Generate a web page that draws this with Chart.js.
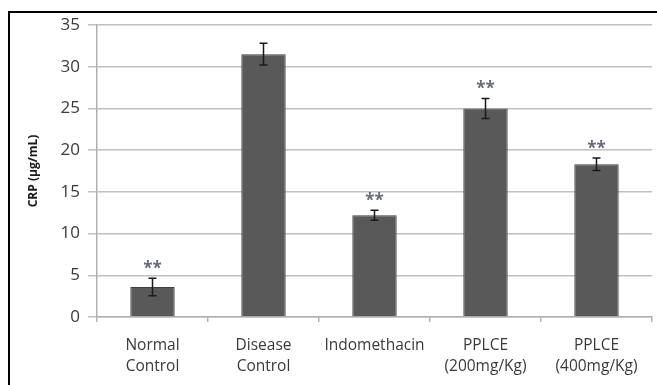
<!DOCTYPE html>
<html>
<head>
<meta charset="utf-8">
<script src="https://cdn.jsdelivr.net/npm/chart.js@4"></script>
<style>
    html, body { margin: 0; padding: 0; background: #fff; overflow: hidden; }
    #wrap { position: relative; width: 657px; height: 385px; }
    #frame {
        position: absolute; left: 8px; top: 11px;
        width: 700px; height: 420px;
        border: 2px solid #000; box-sizing: border-box;
    }
    canvas { position: absolute; left: 0; top: 0; }
</style>
</head>
<body>
<div id="wrap">
    <div id="frame"></div>
    <canvas id="crpChart" width="657" height="385"></canvas>
</div>
<script>
// 数据
const groups = [
    ['Normal', 'Control'],
    ['Disease', 'Control'],
    'Indomethacin',
    ['PPLCE', '(200mg/Kg)'],
    ['PPLCE', '(400mg/Kg)']
];
const crpMean = [3.6, 31.5, 12.2, 25.0, 18.3];
const crpError = [1.05, 1.3, 0.6, 1.2, 0.75];
const significance = ['**', '', '**', '**', '**'];
const yTicks = [0, 5, 10, 15, 20, 25, 30, 35];

// 误差线和显著性标记
const errorBarPlugin = {
    id: 'errorBars',
    afterDatasetsDraw(chart) {
        const ctx = chart.ctx;
        const meta = chart.getDatasetMeta(0);
        const y = chart.scales.y;
        ctx.save();
        meta.data.forEach((bar, i) => {
            const x = bar.x;
            const top = y.getPixelForValue(crpMean[i] + crpError[i]);
            const bottom = y.getPixelForValue(crpMean[i] - crpError[i]);
            ctx.strokeStyle = '#1a1a1a';
            ctx.lineWidth = 1.5;
            ctx.beginPath();
            ctx.moveTo(x, top);
            ctx.lineTo(x, bottom);
            ctx.moveTo(x - 4, top);
            ctx.lineTo(x + 4, top);
            ctx.moveTo(x - 4, bottom);
            ctx.lineTo(x + 4, bottom);
            ctx.stroke();

            if (significance[i]) {
                ctx.fillStyle = '#676a7c';
                ctx.font = 'bold 17px "Open Sans"';
                ctx.textAlign = 'center';
                ctx.textBaseline = 'middle';
                ctx.fillText(significance[i], x, top - 9);
            }
        });
        ctx.restore();
    }
};

const ctx = document.getElementById('crpChart');
new Chart(ctx, {
    type: 'bar',
    data: {
        labels: groups,
        datasets: [{
            label: 'CRP',
            data: crpMean,
            backgroundColor: '#595959',
            borderColor: '#3f3f3f',
            borderWidth: 1,
            barPercentage: 0.4,
            categoryPercentage: 1.0
        }]
    },
    options: {
        responsive: false,
        animation: false,
        layout: { padding: { top: 25, right: 5, left: 0, bottom: 0 } },
        plugins: {
            legend: { display: false },
            tooltip: { enabled: false }
        },
        scales: {
            x: {
                grid: {
                    offset: true,
                    drawOnChartArea: false,
                    drawTicks: true,
                    tickLength: 5,
                    color: '#b0b0b0',
                    lineWidth: 1.5
                },
                border: { color: '#b0b0b0', width: 1.5 },
                ticks: {
                    color: '#3a3a3a',
                    font: { family: 'Open Sans', size: 15.5, lineHeight: 1.36 },
                    padding: 13,
                    maxRotation: 0,
                    autoSkip: false
                },
                afterFit(scale) { scale.height = 68; }
            },
            y: {
                min: 0,
                max: 35,
                afterBuildTicks(scale) {
                    scale.ticks = yTicks.map(v => ({ value: v }));
                },
                grid: {
                    color: '#c0c0c0',
                    lineWidth: 1.5,
                    tickLength: 9
                },
                border: { color: '#b0b0b0', width: 1.5 },
                ticks: {
                    color: '#3a3a3a',
                    font: { family: 'Open Sans', size: 17 },
                    padding: 8
                },
                title: {
                    display: true,
                    text: 'CRP (µg/mL)',
                    color: '#1a1a1a',
                    font: { family: 'Open Sans', size: 12, weight: 'bold' },
                    padding: { top: 26, bottom: 0 }
                },
                afterFit(scale) { scale.width = 97; }
            }
        }
    },
    plugins: [errorBarPlugin]
});
</script>
</body>
</html>
